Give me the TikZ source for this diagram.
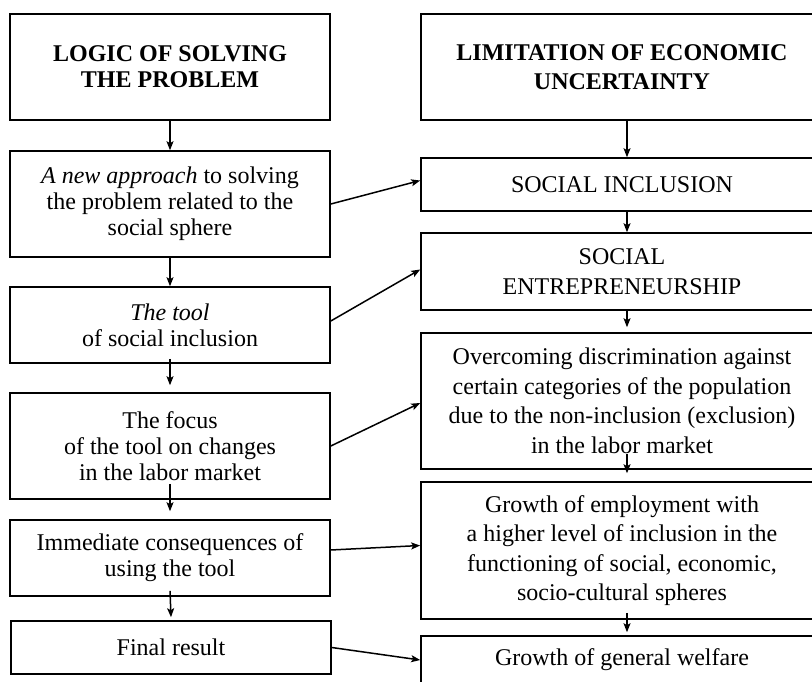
\documentclass[tikz,border=0pt]{standalone}
\usepackage{fontspec}
\setmainfont{Liberation Serif}
\usetikzlibrary{arrows.meta}

\begin{document}
\begin{tikzpicture}[x=1pt, y=-1pt,
  every node/.style={font=\fontsize{24}{26}\selectfont},
  lbox/.style={rectangle, draw, line width=1.6pt, align=center,
               minimum width=320pt, inner sep=0pt},
  rbox/.style={rectangle, draw, line width=1.6pt, align=center,
               minimum width=402pt, inner sep=0pt,
               font=\fontsize{24}{29.5}\selectfont},
  link/.style={-{Stealth[length=9pt,width=7pt,inset=2pt]}, line width=1.5pt}]

\useasboundingbox (0,0) rectangle (812,681);
\clip (0,0) rectangle (812,681);

% left column
\node[lbox, minimum height=106pt] (l1) at (170,67)  {\bfseries LOGIC OF SOLVING\\\bfseries THE PROBLEM};
\node[lbox, minimum height=106pt] (l2) at (170,204) {\textit{A new approach} to solving\\the problem related to the\\social sphere};
\node[lbox, minimum height=76pt]  (l3) at (170,325) {\textit{The tool}\\of social inclusion};
\node[lbox, minimum height=106pt] (l4) at (170,446) {The focus\\of the tool on changes\\in the labor market};
\node[lbox, minimum height=76pt]  (l5) at (170,558) {Immediate consequences of\\using the tool};
\node[lbox, minimum height=53pt]  (l6) at (171,647.5) {Final result};

% right column
\node[rbox, minimum height=106pt] (r1) at (622,67)    {\bfseries LIMITATION OF ECONOMIC\\\bfseries UNCERTAINTY};
\node[rbox, minimum height=53pt]  (r2) at (622,184.5) {SOCIAL INCLUSION};
\node[rbox, minimum height=77pt]  (r3) at (622,271.5) {SOCIAL\\ENTREPRENEURSHIP};
\node[rbox, minimum height=136pt] (r4) at (622,401)   {Overcoming discrimination against\\certain categories of the population\\due to the non-inclusion (exclusion)\\in the labor market};
\node[rbox, minimum height=137pt] (r5) at (622,550.5) {Growth of employment with\\a higher level of inclusion in the\\functioning of social, economic,\\socio-cultural spheres};
\node[rbox, minimum height=48pt]  (r6) at (622,660)   {Growth of general welfare};

% vertical links
\draw[link] (l1.south) -- (l2.north);
\draw[link] (l2.south) -- (l3.north);
\draw[link] ([yshift=5pt]l3.south) -- ([yshift=7pt]l4.north);
\draw[link] ([yshift=16pt]l4.south) -- ([yshift=8pt]l5.north);
\draw[link] ([yshift=6pt]l5.south) -- ([yshift=3pt]l6.north);

\draw[link] ([xshift=5pt]r1.south) -- ([xshift=5pt]r2.north);
\draw[link] ([xshift=5pt]r2.south) -- ([xshift=5pt]r3.north);
\draw[link] ([xshift=5pt]r3.south) -- ([xshift=5pt,yshift=5pt]r4.north);
\draw[link] ([xshift=5pt,yshift=16pt]r4.south) -- ([xshift=5pt,yshift=8pt]r5.north);
\draw[link] ([xshift=5pt,yshift=7pt]r5.south) -- ([xshift=5pt,yshift=3pt]r6.north);

% cross links
\draw[link] (l2.east) -- ([yshift=4pt]r2.west);
\draw[link] ([yshift=4pt]l3.east) -- ([yshift=2pt]r3.west);
\draw[link] (l4.east) -- ([yshift=-2pt]r4.west);
\draw[link] ([yshift=8pt]l5.east) -- ([yshift=5pt]r5.west);
\draw[link] (l6.east) -- (r6.west);
\end{tikzpicture}
\end{document}
